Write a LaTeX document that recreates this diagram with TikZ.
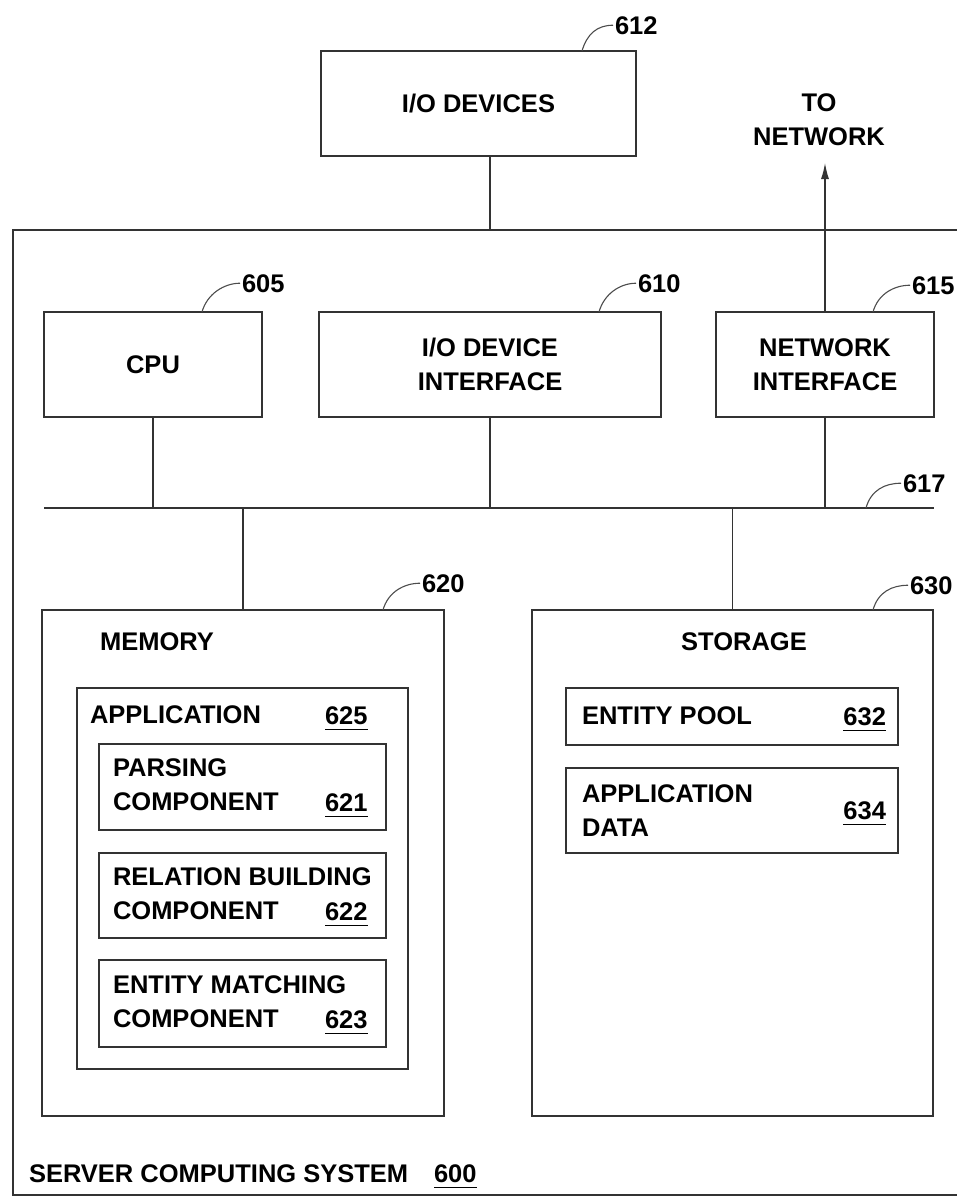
\documentclass[tikz,border=0pt]{standalone}
\usepackage{fontspec}
\setmainfont{Liberation Sans}
\usetikzlibrary{arrows.meta}
\newcommand\refnum[1]{\underline{#1\rule[-4pt]{0pt}{0pt}}}
\tikzset{
  unit/.style={draw=black!80,line width=1.3pt,inner sep=0pt,outer sep=0pt,align=center,font=\bfseries\fontsize{25.5}{34}\selectfont},
  txt/.style={inner sep=0pt,outer sep=0pt,align=left,font=\bfseries\fontsize{25.5}{34}\selectfont},
  wire/.style={draw=black!80,line width=1.3pt},
  leader/.style={draw=black!70,line width=1.1pt},
}
\begin{document}
\begin{tikzpicture}[x=1pt,y=-1pt]
\path[use as bounding box] (0,0) rectangle (957,1197);
\clip (0,0) rectangle (957,1197);
% outer system box and top level units
\node[unit,minimum width=952pt,minimum height=965pt] (sys) at (489,712.5) {};
\node[unit,minimum width=315pt,minimum height=105pt] (iodev) at (478.5,103.5) {I/O DEVICES};
\node[unit,minimum width=218pt,minimum height=105pt] (cpu) at (153,364.5) {CPU};
\node[unit,minimum width=342pt,minimum height=105pt] (iface) at (490,364.5) {I/O DEVICE\\INTERFACE};
\node[unit,minimum width=218pt,minimum height=105pt] (netif) at (825,364.5) {NETWORK\\INTERFACE};
\node[txt,align=center] (tonettxt) at (819,120) {TO\\NETWORK};
\coordinate (tonet) at (825,163);
% bus 617
\coordinate (busL) at (44,508);
\coordinate (busR) at (934,508);
% memory and storage
\node[unit,minimum width=402pt,minimum height=506pt] (mem) at (243,863) {};
\node[unit,minimum width=401pt,minimum height=506pt] (stor) at (732.5,863) {};
\node[txt] (memtxt) at (157,642) {MEMORY};
\node[txt] (stortxt) at (744,642) {STORAGE};
\node[unit,minimum width=331pt,minimum height=381pt] (app) at (242.5,878.5) {};
\node[txt,anchor=west] (apptxt) at (90,715) {APPLICATION};
\node[txt,anchor=base west] (n625) at (325,724) {\refnum{625}};
\node[unit,minimum width=287pt,minimum height=86pt] (parse) at (242.5,787) {};
\node[txt,anchor=west] (parsetxt) at (113,785) {PARSING\\COMPONENT};
\node[txt,anchor=base west] (n621) at (325,811) {\refnum{621}};
\node[unit,minimum width=287pt,minimum height=85pt] (rel) at (242.5,895.5) {};
\node[txt,anchor=west] (reltxt) at (113,894) {RELATION BUILDING\\COMPONENT};
\node[txt,anchor=base west] (n622) at (325,920) {\refnum{622}};
\node[unit,minimum width=287pt,minimum height=87pt] (match) at (242.5,1003.5) {};
\node[txt,anchor=west] (matchtxt) at (113,1002) {ENTITY MATCHING\\COMPONENT};
\node[txt,anchor=base west] (n623) at (325,1028) {\refnum{623}};
\node[unit,minimum width=332pt,minimum height=57pt] (pool) at (732,716.5) {};
\node[txt,anchor=west] (pooltxt) at (582,716) {ENTITY POOL};
\node[txt,anchor=base east] (n632) at (886,725) {\refnum{632}};
\node[unit,minimum width=332pt,minimum height=85pt] (adata) at (732,810.5) {};
\node[txt,anchor=west] (adatatxt) at (582,811) {APPLICATION\\DATA};
\node[txt,anchor=base east] (n634) at (886,819) {\refnum{634}};
\node[txt,anchor=base west] (systxt) at (29,1182) {SERVER COMPUTING SYSTEM};
\node[txt,anchor=base west] (n600) at (434,1182) {\refnum{600}};
% reference numerals
\node[txt,anchor=base west] (n612) at (615,34) {612};
\node[txt,anchor=base west] (n605) at (242,292) {605};
\node[txt,anchor=base west] (n610) at (638,292) {610};
\node[txt,anchor=base west] (n615) at (912,294) {615};
\node[txt,anchor=base west] (n617) at (903,492) {617};
\node[txt,anchor=base west] (n620) at (422,592) {620};
\node[txt,anchor=base west] (n630) at (910,594) {630};
% connectors
\draw[wire] (iface.north |- iodev.south) -- (iface.north |- sys.north);
\draw[wire,-{Latex[length=16pt,width=8pt]}] (netif.north) -- (tonet);
\draw[wire] (busL) -- (busR);
\draw[wire] (cpu.south) -- (cpu.south |- busL);
\draw[wire] (iface.south) -- (iface.south |- busL);
\draw[wire] (netif.south) -- (netif.south |- busL);
\draw[wire] (mem.north |- busL) -- (mem.north);
\draw[wire] (stor.north |- busL) -- (stor.north);
% leader lines
\draw[leader] ([xshift=-54pt]iodev.north east) .. controls +(5,-17) and +(-16,0) .. ([xshift=-2pt]n612.west);
\draw[leader] ([xshift=-60pt]cpu.north east) .. controls +(5,-18) and +(-16,0) .. ([xshift=-2pt]n605.west);
\draw[leader] ([xshift=-62pt]iface.north east) .. controls +(5,-18) and +(-16,0) .. ([xshift=-2pt]n610.west);
\draw[leader] ([xshift=-61pt]netif.north east) .. controls +(5,-18) and +(-16,0) .. ([xshift=-2pt]n615.west);
\draw[leader] ([xshift=-68pt]busR) .. controls +(5,-18) and +(-16,0) .. ([xshift=-2pt]n617.west);
\draw[leader] ([xshift=-61pt]mem.north east) .. controls +(5,-18) and +(-16,0) .. ([xshift=-2pt]n620.west);
\draw[leader] ([xshift=-60pt]stor.north east) .. controls +(5,-18) and +(-16,0) .. ([xshift=-2pt]n630.west);
\end{tikzpicture}
\end{document}
